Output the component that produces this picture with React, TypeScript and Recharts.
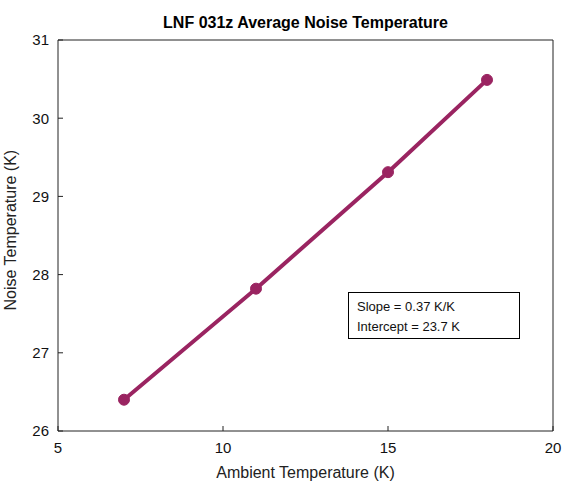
import { LineChart, Line, XAxis, YAxis } from "recharts"

// ambient temperature (K) vs averaged noise temperature (K)
const ambient = [7, 11, 15, 18]
const noiseTemp = [26.4, 27.82, 29.31, 30.49]
const xTicks = [5, 10, 15, 20]
const yTicks = [26, 27, 28, 29, 30, 31]
const fitLines = ["Slope = 0.37 K/K", "Intercept = 23.7 K"]

const LINE_COLOR = "#9a2461"
const FONT = "'Liberation Sans', Arial, sans-serif"

const data = ambient.map((x, i) => ({ x, y: noiseTemp[i] }))

export default function App() {
  const tickStyle = { fill: "#111", fontSize: 15, fontFamily: FONT }
  return (
    <div style={{ position: "absolute", left: 0, top: 0, width: 565, height: 481, background: "#fff", fontFamily: FONT }}>
      <div
        style={{
          position: "absolute",
          left: 58,
          width: 495,
          top: 14,
          textAlign: "center",
          fontWeight: "bold",
          fontSize: 16,
          color: "#000",
        }}
      >
        LNF 031z Average Noise Temperature
      </div>
      <LineChart width={565} height={481} data={data} margin={{ top: 10, right: 2, bottom: 0, left: 8 }}>
        <XAxis
          xAxisId="bottom"
          dataKey="x"
          type="number"
          domain={[5, 20]}
          ticks={xTicks}
          orientation="bottom"
          height={50}
          stroke="#222"
          tickSize={-5}
          tickMargin={16}
          tick={tickStyle}
          label={{ value: "Ambient Temperature (K)", position: "insideBottom", offset: 3, fill: "#222", fontSize: 16, fontFamily: FONT }}
        />
        <XAxis
          xAxisId="top"
          dataKey="x"
          type="number"
          domain={[5, 20]}
          ticks={xTicks}
          orientation="top"
          height={30}
          stroke="#222"
          tickSize={-5}
          tick={false}
        />
        <YAxis
          yAxisId="left"
          type="number"
          domain={[26, 31]}
          ticks={yTicks}
          width={50}
          stroke="#222"
          tickSize={-5}
          tickMargin={14}
          tick={tickStyle}
          label={{ value: "Noise Temperature (K)", angle: -90, position: "insideLeft", offset: 2, dy: 75, fill: "#222", fontSize: 16, fontFamily: FONT }}
        />
        <YAxis
          yAxisId="right"
          orientation="right"
          type="number"
          domain={[26, 31]}
          ticks={yTicks}
          width={10}
          stroke="#222"
          tickSize={-5}
          tick={false}
        />
        <Line
          xAxisId="bottom"
          yAxisId="left"
          dataKey="y"
          stroke={LINE_COLOR}
          strokeWidth={4}
          dot={{ r: 5.5, fill: LINE_COLOR, stroke: LINE_COLOR, strokeWidth: 1 }}
          isAnimationActive={false}
        />
      </LineChart>
      <div
        style={{
          position: "absolute",
          left: 348,
          top: 292,
          width: 172,
          height: 47,
          border: "1px solid #000",
          boxSizing: "border-box",
          padding: "4px 0 0 8px",
          fontSize: 13,
          lineHeight: "20px",
          color: "#111",
        }}
      >
        {fitLines.map((t) => (
          <div key={t}>{t}</div>
        ))}
      </div>
    </div>
  )
}
